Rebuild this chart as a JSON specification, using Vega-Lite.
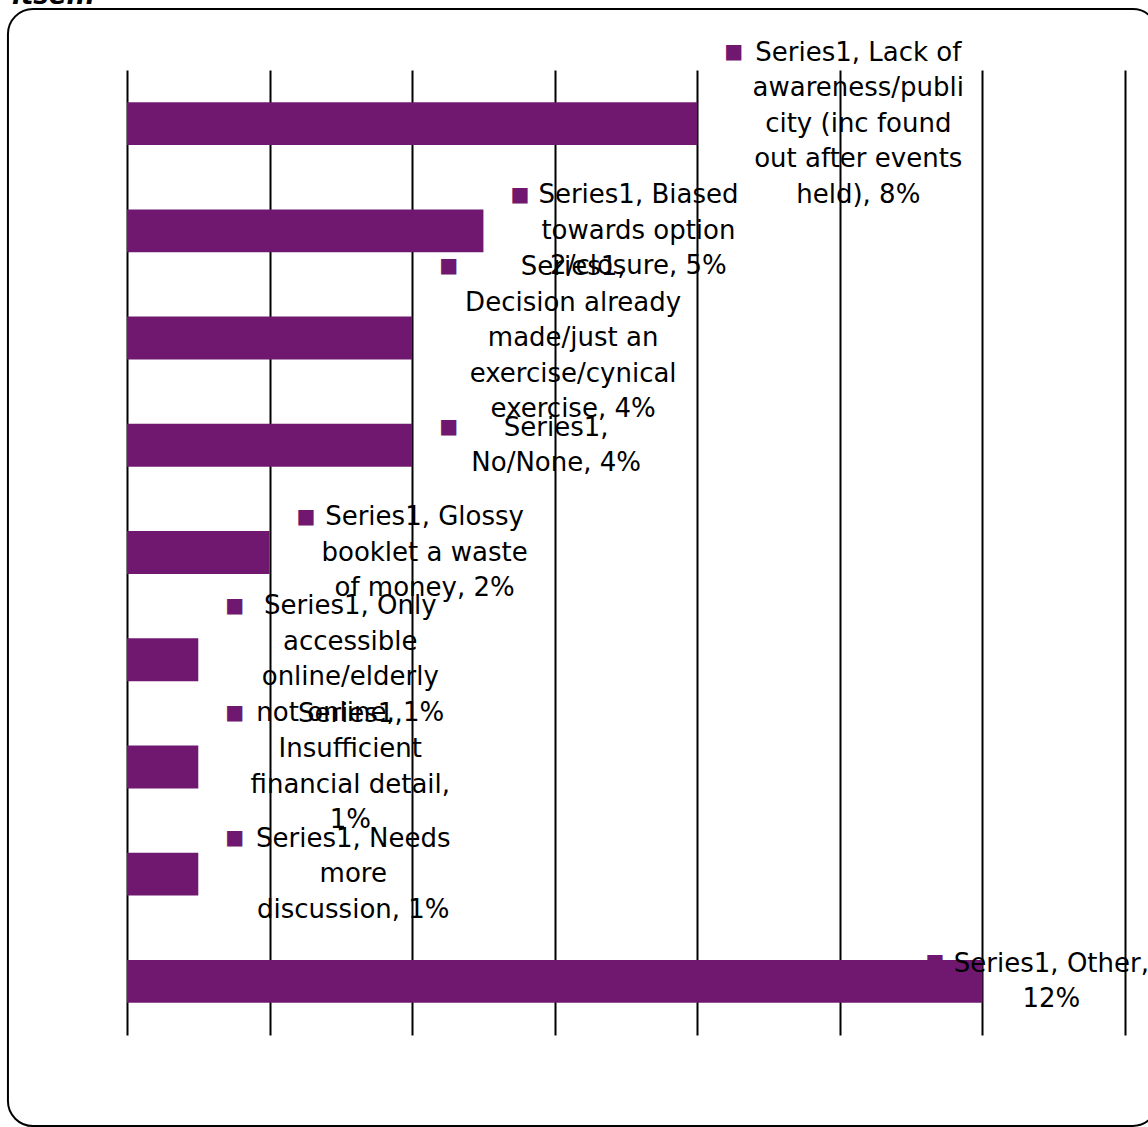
{
  "$schema": "https://vega.github.io/schema/vega-lite/v6.json",
  "width": 998,
  "height": 965,
  "autosize": "none",
  "padding": {"left": 127, "top": 70, "right": 23, "bottom": 92},
  "background": "#ffffff",
  "config": {"view": {"stroke": null}},
  "datasets": {
    "bars": [
      {"category": "Lack of awareness/publicity (inc found out after events held)", "value": 8, "label": "Series1, Lack of\nawareness/publi\ncity (inc found\nout after events\nheld), 8%"},
      {"category": "Biased towards option 2/closure", "value": 5, "label": "Series1, Biased\ntowards option\n2/closure, 5%"},
      {"category": "Decision already made/just an exercise/cynical exercise", "value": 4, "label": "Series1,\nDecision already\nmade/just an\nexercise/cynical\nexercise, 4%"},
      {"category": "No/None", "value": 4, "label": "Series1,\nNo/None, 4%"},
      {"category": "Glossy booklet a waste of money", "value": 2, "label": "Series1, Glossy\nbooklet a waste\nof money, 2%"},
      {"category": "Only accessible online/elderly not online", "value": 1, "label": "Series1, Only\naccessible\nonline/elderly\nnot online, 1%"},
      {"category": "Insufficient financial detail", "value": 1, "label": "Series1,\nInsufficient\nfinancial detail,\n1%"},
      {"category": "Needs more discussion", "value": 1, "label": "Series1, Needs\nmore\ndiscussion, 1%"},
      {"category": "Other", "value": 12, "label": "Series1, Other,\n12%"}
    ]
  },
  "layer": [
    {
      "data": {"values": [{}]},
      "layer": [
        {
          "mark": {"type": "rect", "filled": false, "stroke": "#000000", "strokeWidth": 2, "cornerRadius": 25},
          "encoding": {
            "x": {"datum": -1.67, "type": "quantitative", "scale": {"domain": [0, 14], "nice": false, "zero": false}, "axis": {"values": [0, 2, 4, 6, 8, 10, 12, 14], "grid": true, "gridColor": "#000000", "gridWidth": 2, "gridOpacity": 1, "labels": false, "ticks": false, "domain": false, "title": null}},
            "x2": {"datum": 14.46},
            "y": {"datum": 1.0632, "type": "quantitative", "scale": {"domain": [0, 1], "nice": false, "zero": false}, "axis": null},
            "y2": {"datum": -0.0943}
          }
        },
        {
          "mark": {"type": "text", "text": "itself.", "font": "DejaVu Sans", "fontSize": 26, "fontWeight": "bold", "fontStyle": "italic", "align": "left", "baseline": "alphabetic", "color": "#000000"},
          "encoding": {
            "x": {"datum": -1.613, "type": "quantitative", "axis": {"values": [0, 2, 4, 6, 8, 10, 12, 14], "grid": true, "gridColor": "#000000", "gridWidth": 2, "gridOpacity": 1, "labels": false, "ticks": false, "domain": false, "title": null}},
            "y": {"datum": 1.0684, "type": "quantitative", "axis": null}
          }
        }
      ]
    },
    {
      "data": {"name": "bars"},
      "encoding": {
        "y": {
          "field": "category", "type": "nominal", "sort": null, "axis": null,
          "scale": {
            "domain": ["Lack of awareness/publicity (inc found out after events held)", "Biased towards option 2/closure", "Decision already made/just an exercise/cynical exercise", "No/None", "Glossy booklet a waste of money", "Only accessible online/elderly not online", "Insufficient financial detail", "Needs more discussion", "Other"],
            "paddingInner": 0.6, "paddingOuter": 0.3
          }
        },
        "x": {
          "field": "value", "type": "quantitative",
          "scale": {"domain": [0, 14], "nice": false, "zero": false},
          "axis": {"values": [0, 2, 4, 6, 8, 10, 12, 14], "grid": true, "gridColor": "#000000", "gridWidth": 2, "gridOpacity": 1, "labels": false, "ticks": false, "domain": false, "title": null}
        }
      },
      "layer": [
        {"mark": {"type": "bar", "color": "#701870"}},
        {
          "transform": [{"filter": {"field": "category", "oneOf": ["Lack of awareness/publicity (inc found out after events held)", "Decision already made/just an exercise/cynical exercise"]}}],
          "layer": [
            {"mark": {"type": "text", "align": "center", "baseline": "middle", "dx": 161, "dy": -71, "font": "DejaVu Sans", "fontSize": 26, "lineHeight": 35.5, "lineBreak": "\n", "color": "#000000"}, "encoding": {"text": {"field": "label", "type": "nominal"}}},
            {"mark": {"type": "text", "text": "■", "align": "left", "baseline": "middle", "dx": 27, "dy": -72, "font": "DejaVu Sans", "fontSize": 20, "color": "#701870"}}
          ]
        },
        {
          "transform": [{"filter": {"field": "category", "oneOf": ["Only accessible online/elderly not online", "Insufficient financial detail"]}}],
          "layer": [
            {"mark": {"type": "text", "align": "center", "baseline": "middle", "dx": 152, "dy": -53.25, "font": "DejaVu Sans", "fontSize": 26, "lineHeight": 35.5, "lineBreak": "\n", "color": "#000000"}, "encoding": {"text": {"field": "label", "type": "nominal"}}},
            {"mark": {"type": "text", "text": "■", "align": "left", "baseline": "middle", "dx": 27, "dy": -54, "font": "DejaVu Sans", "fontSize": 20, "color": "#701870"}}
          ]
        },
        {
          "transform": [{"filter": {"field": "category", "oneOf": ["Biased towards option 2/closure", "Glossy booklet a waste of money", "Needs more discussion"]}}],
          "layer": [
            {"mark": {"type": "text", "align": "center", "baseline": "middle", "dx": 155, "dy": -35.5, "font": "DejaVu Sans", "fontSize": 26, "lineHeight": 35.5, "lineBreak": "\n", "color": "#000000"}, "encoding": {"text": {"field": "label", "type": "nominal"}}},
            {"mark": {"type": "text", "text": "■", "align": "left", "baseline": "middle", "dx": 27, "dy": -36, "font": "DejaVu Sans", "fontSize": 20, "color": "#701870"}}
          ]
        },
        {
          "transform": [{"filter": {"field": "category", "oneOf": ["No/None"]}}],
          "layer": [
            {"mark": {"type": "text", "align": "center", "baseline": "middle", "dx": 144, "dy": -17.75, "font": "DejaVu Sans", "fontSize": 26, "lineHeight": 35.5, "lineBreak": "\n", "color": "#000000"}, "encoding": {"text": {"field": "label", "type": "nominal"}}},
            {"mark": {"type": "text", "text": "■", "align": "left", "baseline": "middle", "dx": 27, "dy": -18, "font": "DejaVu Sans", "fontSize": 20, "color": "#701870"}}
          ]
        },
        {
          "transform": [{"filter": {"field": "category", "oneOf": ["Other"]}}],
          "layer": [
            {"mark": {"type": "text", "text": "■", "align": "left", "baseline": "middle", "dx": -57, "dy": -19, "font": "DejaVu Sans", "fontSize": 20, "color": "#701870"}},
            {"mark": {"type": "text", "align": "center", "baseline": "middle", "dx": 69, "dy": -17.75, "font": "DejaVu Sans", "fontSize": 26, "lineHeight": 35.5, "lineBreak": "\n", "color": "#000000"}, "encoding": {"text": {"field": "label", "type": "nominal"}}}
          ]
        }
      ]
    }
  ],
  "resolve": {"scale": {"y": "independent"}}
}
